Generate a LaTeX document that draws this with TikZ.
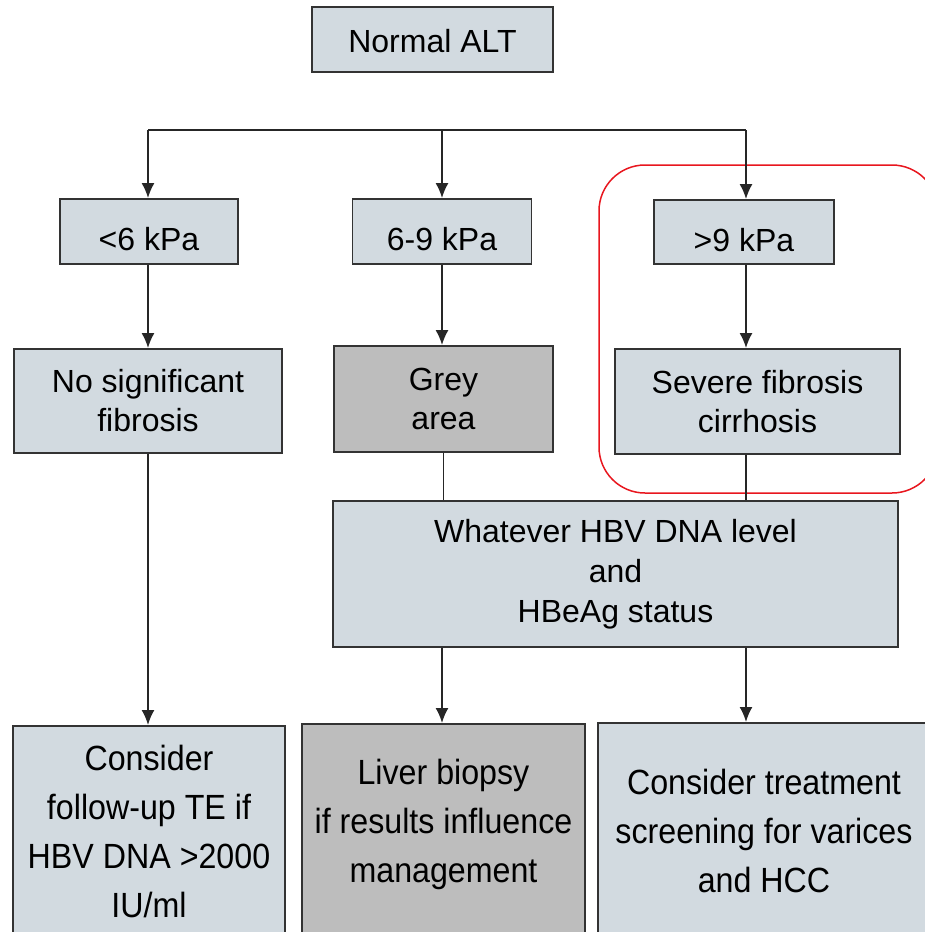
\documentclass[tikz,border=0pt]{standalone}
\usepackage{fontspec}
\setmainfont{Liberation Sans}
\newfontfamily\narrowf[FakeStretch=0.92]{Liberation Sans}
\usetikzlibrary{arrows.meta}
\definecolor{lightfill}{HTML}{D2DAE0}
\definecolor{darkfill}{HTML}{BDBDBD}
\definecolor{boxline}{HTML}{333333}
\definecolor{hilite}{HTML}{E8161E}
\tikzset{
  box/.style={draw=boxline, fill=lightfill, line width=1.8pt, inner sep=0pt, align=center,
    font=\fontsize{32}{39}\selectfont},
  greybox/.style={box, fill=darkfill},
  kbox/.style={box, text height=38pt, text depth=0pt},
  lastbox/.style={draw=boxline, line width=1.8pt, inner sep=0pt, anchor=north, minimum height=260pt},
  lasttext/.style={align=center, inner sep=0pt, font=\narrowf\fontsize{35}{49}\selectfont},
  conn/.style={draw=black!85, line width=1.8pt},
  arr/.style={conn, -{Latex[length=15pt,width=13pt]}},
}
\begin{document}
\begin{tikzpicture}[x=1pt,y=-1pt]
\useasboundingbox (0,0) rectangle (925,932);
\clip (0,0) rectangle (925,932);
\fill[white] (0,0) rectangle (925,932);

% top
\node[box, minimum width=241pt, minimum height=65pt, text height=26pt, text depth=0pt] (alt) at (432.5,39.5) {Normal ALT};

% level 2
\node[kbox, minimum width=178pt, minimum height=65pt] (k1) at (149,231.5) {<6 kPa};
\node[kbox, minimum width=179pt, minimum height=65pt] (k2) at (442,231.5) {6-9 kPa};
\node[kbox, minimum width=180pt, minimum height=64pt] (k3) at (744,232) {>9 kPa};

% level 3
\node[box, minimum width=268pt, minimum height=104pt] (nsf) at (148,401) {No significant\\fibrosis};
\node[greybox, minimum width=219pt, minimum height=106pt] (grey) at (443.5,399) {Grey\\area};
\node[box, minimum width=285pt, minimum height=105pt] (sev) at (757.5,401.5) {Severe fibrosis\\cirrhosis};

% highlight
\draw[hilite, line width=1.5pt, rounded corners=46pt] (599,165) rectangle (938,493);

% middle
\node[box, minimum width=565pt, minimum height=146pt, font=\fontsize{32}{40}\selectfont] (what) at (615.5,574) {Whatever HBV DNA level\\and\\HBeAg status};

% bottom
\node[lastbox, fill=lightfill, minimum width=272pt] (b1) at (149,725) {};
\node[lastbox, fill=darkfill, minimum width=283pt] (b2) at (443.5,723) {};
\node[lastbox, fill=lightfill, minimum width=345pt] (b3) at (770.5,722) {};
\node[lasttext] (t1) at (149,831) {Consider\\follow-up TE if\\HBV DNA >2000\\IU/ml};
\node[lasttext] (t2) at (443.5,824) {Liver biopsy\\if results influence\\management};
\node[lasttext] (t3) at (764,831) {Consider treatment\\screening for varices\\and HCC};

% connectors
\coordinate (busL) at (148,130);
\coordinate (busR) at (746,130);
\draw[conn] (alt.south -| k2.north) -- (alt.south -| k2.north |- busL);
\draw[conn] (busL) -- (busR);
\draw[arr] (busL) -- (busL |- k1.north);
\draw[arr] (k2.north |- busL) -- (k2.north);
\draw[arr] (busR) -- (busR |- k3.north);

\draw[arr] (k1.south -| nsf.north) -- (nsf.north);
\draw[arr] (k2.south) -- (k2.south |- grey.north);
\draw[arr] (k3.south -| busR) -- (busR |- sev.north);

\draw[conn] (grey.south) -- (grey.south |- what.north);
\draw[conn] (busR |- sev.south) -- (busR |- what.north);

\draw[arr] (nsf.south) -- (nsf.south |- b1.north);
\draw[arr] (k2 |- what.south) -- (k2 |- b2.north);
\draw[arr] (busR |- what.south) -- (busR |- b3.north);
\end{tikzpicture}
\end{document}
